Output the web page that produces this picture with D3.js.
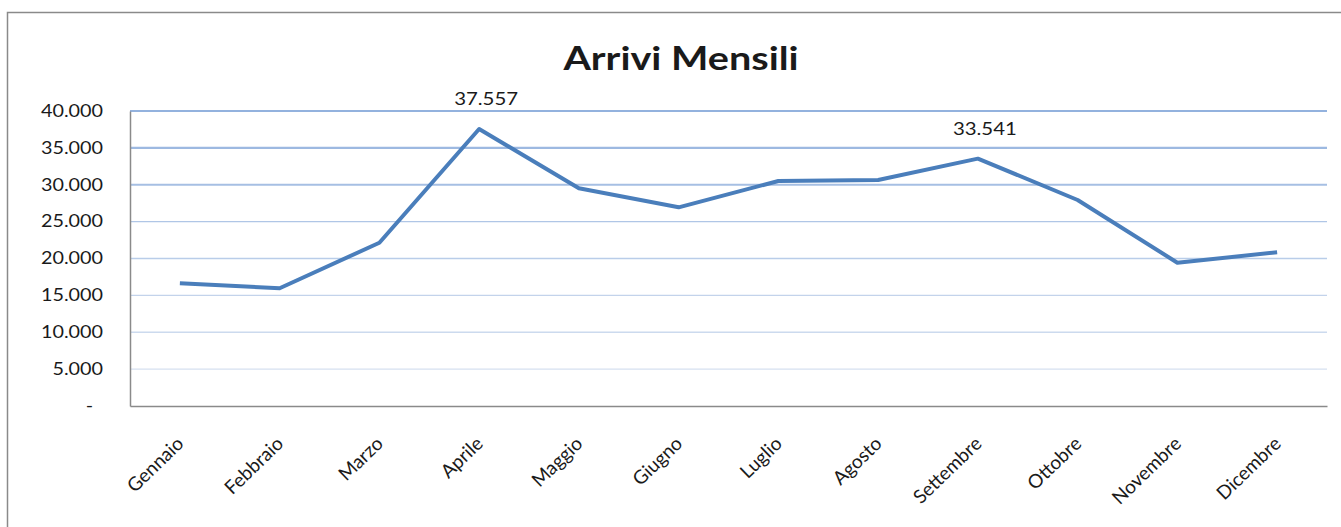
<!DOCTYPE html>
<html>
<head>
<meta charset="utf-8">
<script src="https://cdn.jsdelivr.net/npm/d3@7"></script>
<style>
  body { margin: 0; background: #fff; }
  text { font-family: Lato, "Open Sans", sans-serif; fill: #1a1a1a; }
</style>
</head>
<body>
<div id="chart"></div>
<script>
// data
const months = ['Gennaio', 'Febbraio', 'Marzo', 'Aprile', 'Maggio', 'Giugno',
                'Luglio', 'Agosto', 'Settembre', 'Ottobre', 'Novembre', 'Dicembre'];
const arrivi = [16640, 15960, 22140, 37557, 29520, 26940, 30510, 30640, 33541, 27930, 19430, 20840];
const yTicks = [0, 5000, 10000, 15000, 20000, 25000, 30000, 35000, 40000];
const labelled = ['Aprile', 'Settembre'];
const title = 'Arrivi Mensili';

const width = 1341, height = 527;
const plot = { left: 130, right: 1327, top: 111, bottom: 406 };
const stretch = 1.2; // the reference text is a bit wide

const it = d3.formatLocale({ decimal: ',', thousands: '.', grouping: [3], currency: ['', '€'] });
const fmt = it.format(',.0f');

const svg = d3.select('#chart')
  .append('svg')
    .attr('width', width)
    .attr('height', height);

// outer chart border (right and bottom run off the picture)
svg.append('rect')
  .attr('x', 7.5).attr('y', 12.5)
  .attr('width', width + 20).attr('height', height + 20)
  .attr('fill', 'none')
  .attr('stroke', '#8a8a8a')
  .attr('stroke-width', 1.5);

const x = d3.scaleBand().domain(months).range([plot.left, plot.right]);
const y = d3.scaleLinear().domain([0, 40000]).range([plot.bottom, plot.top]);

// grid lines get darker towards the top, like in the picture
const gridColour = d3.scaleLinear().domain([0, 40000]).range(['#dfe7f3', '#93b2de']);
const gridWidth = d3.scaleThreshold().domain([27500]).range([1.3, 2.2]);

svg.append('g')
  .selectAll('line')
  .data(yTicks.filter(d => d > 0))
  .join('line')
    .attr('x1', plot.left).attr('x2', plot.right)
    .attr('y1', d => y(d)).attr('y2', d => y(d))
    .attr('stroke', d => gridColour(d))
    .attr('stroke-width', d => gridWidth(d));

// y axis
const yAxis = svg.append('g')
  .attr('transform', `translate(${plot.left},0)`)
  .call(d3.axisLeft(y).tickValues(yTicks).tickSize(0)
    .tickFormat(d => d === 0 ? '-' : fmt(d)));
yAxis.select('.domain').attr('stroke', '#8a8a8a').attr('stroke-width', 1.5);
yAxis.selectAll('text')
  .attr('font-size', 16.5)
  .attr('font-family', 'Lato')
  .attr('fill', '#1a1a1a')
  .attr('x', 0)
  .attr('transform', d => `translate(${d === 0 ? -37 : -27},0) scale(${stretch},1)`);

// x axis
const xAxis = svg.append('g')
  .attr('transform', `translate(0,${plot.bottom})`)
  .call(d3.axisBottom(x).tickSize(0));
xAxis.select('.domain').attr('stroke', '#8a8a8a').attr('stroke-width', 1.5);
xAxis.selectAll('text')
  .attr('font-size', 19)
  .attr('font-family', 'Lato')
  .attr('fill', '#1a1a1a')
  .attr('text-anchor', 'end')
  .attr('x', 0).attr('y', 0).attr('dy', 0)
  .attr('transform', 'translate(5,39) rotate(-44)');

// the line
const line = d3.line()
  .x((d, i) => x(months[i]) + x.bandwidth() / 2)
  .y(d => y(d));

svg.append('path')
  .datum(arrivi)
  .attr('fill', 'none')
  .attr('stroke', '#4a7ebb')
  .attr('stroke-width', 4)
  .attr('stroke-linejoin', 'round')
  .attr('stroke-linecap', 'butt')
  .attr('d', line);

// data labels on the two peaks
svg.append('g')
  .selectAll('text')
  .data(months.map((m, i) => ({ m, v: arrivi[i] })).filter(d => labelled.includes(d.m)))
  .join('text')
    .attr('text-anchor', 'middle')
    .attr('font-size', 17)
    .attr('transform', d => `translate(${x(d.m) + x.bandwidth() / 2 + 7},${y(d.v) - 24}) scale(${stretch},1)`)
    .text(d => fmt(d.v));

// title
svg.append('text')
  .attr('text-anchor', 'middle')
  .attr('font-weight', 'bold')
  .attr('font-size', 33)
  .attr('fill', '#000')
  .attr('transform', `translate(681,70) scale(${stretch},1)`)
  .text(title);
</script>
</body>
</html>
